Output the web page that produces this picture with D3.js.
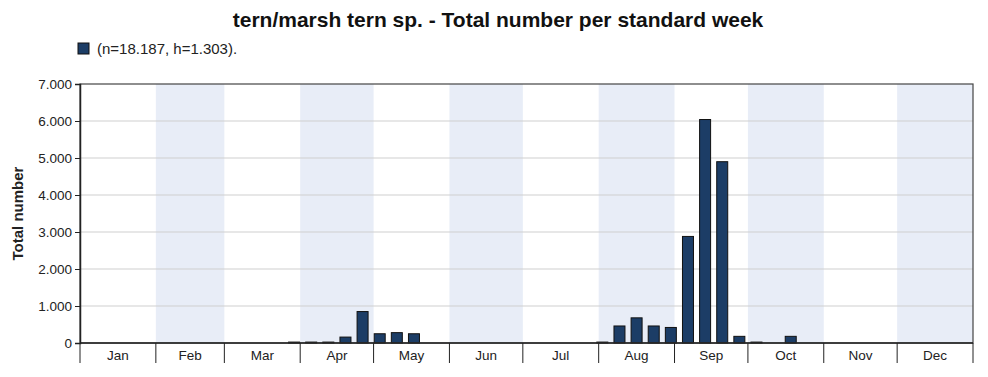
<!DOCTYPE html>
<html>
<head>
<meta charset="utf-8">
<script src="https://cdn.jsdelivr.net/npm/d3@7"></script>
<style>
  body { margin: 0; background: #fff; }
  text { font-family: "Liberation Sans", Arial, sans-serif; }
</style>
</head>
<body>
<script>
// Data: standard week number and total count
const weeks = [13, 14, 15, 16, 17, 18, 19, 20, 31, 32, 33, 34, 35, 36, 37, 38, 39, 40, 41, 42];
const counts = [25, 25, 25, 160, 850, 250, 280, 250, 25, 460, 680, 460, 420, 2880, 6040, 4900, 180, 25, 0, 180];
const months = ["Jan", "Feb", "Mar", "Apr", "May", "Jun", "Jul", "Aug", "Sep", "Oct", "Nov", "Dec"];
const yTicks = [0, 1000, 2000, 3000, 4000, 5000, 6000, 7000];
const title = "tern/marsh tern sp. - Total number per standard week";
const legendLabel = "(n=18.187, h=1.303).";

const width = 988;
const height = 377;
const margin = { top: 84, right: 15, bottom: 34, left: 80 };
const innerWidth = width - margin.left - margin.right;
const innerHeight = height - margin.top - margin.bottom;

const svg = d3.select("body")
  .append("svg")
  .attr("width", width)
  .attr("height", height);

const year = 2021;
const x = d3.scaleTime()
  .domain([new Date(year, 0, 1), new Date(year + 1, 0, 1)])
  .range([0, innerWidth]);

const y = d3.scaleLinear()
  .domain([0, 7000])
  .range([innerHeight, 0]);

const fmt = v => d3.format(",")(v).replace(/,/g, ".");

const g = svg.append("g")
  .attr("transform", `translate(${margin.left},${margin.top})`);

// alternating month bands
const monthStarts = d3.range(12).map(i => new Date(year, i, 1));
g.selectAll("rect.band")
  .data(monthStarts.filter((d, i) => i % 2 === 1))
  .enter()
  .append("rect")
  .attr("class", "band")
  .attr("x", d => x(d))
  .attr("width", d => x(new Date(year, d.getMonth() + 1, 1)) - x(d))
  .attr("y", 0)
  .attr("height", innerHeight)
  .attr("fill", "#e8edf7");

// gridlines
g.selectAll("line.grid")
  .data(yTicks.slice(1, -1))
  .enter()
  .append("line")
  .attr("x1", 0)
  .attr("x2", innerWidth)
  .attr("y1", d => y(d))
  .attr("y2", d => y(d))
  .attr("stroke", "#cfcfcf")
  .attr("stroke-width", 1);

// bars
const dayMs = 24 * 3600 * 1000;
const weekCenter = w => new Date(new Date(year, 0, 1).getTime() + ((w - 1) * 7 + 3.5) * dayMs);
const barWidth = 11;
g.selectAll("rect.bar")
  .data(weeks.map((w, i) => ({ week: w, value: counts[i] })).filter(d => d.value > 0))
  .enter()
  .append("rect")
  .attr("class", "bar")
  .attr("x", d => x(weekCenter(d.week)) - barWidth / 2)
  .attr("y", d => y(d.value))
  .attr("width", barWidth)
  .attr("height", d => innerHeight - y(d.value))
  .attr("fill", "#1c3d66")
  .attr("stroke", "#111")
  .attr("stroke-width", 1);

// frame
g.append("rect")
  .attr("x", 0)
  .attr("y", 0)
  .attr("width", innerWidth)
  .attr("height", innerHeight)
  .attr("fill", "none")
  .attr("stroke", "#444")
  .attr("stroke-width", 1.2);

// y axis
const yAxis = d3.axisLeft(y)
  .tickValues(yTicks)
  .tickSize(5)
  .tickFormat(fmt);
g.append("g")
  .call(yAxis)
  .call(s => s.select(".domain").attr("stroke", "#222").attr("stroke-width", 1.5))
  .call(s => s.selectAll(".tick line").attr("stroke", "#222"))
  .call(s => s.selectAll(".tick text")
    .attr("font-size", 13.5)
    .attr("fill", "#222")
    .attr("font-family", "Liberation Sans, Arial, sans-serif"));

// x axis: month boundaries as long ticks, labels centred in months
const xAxisG = g.append("g")
  .attr("transform", `translate(0,${innerHeight})`);
xAxisG.append("line")
  .attr("x1", 0)
  .attr("x2", innerWidth)
  .attr("stroke", "#222")
  .attr("stroke-width", 1.5);
xAxisG.selectAll("line.mtick")
  .data(monthStarts.concat([new Date(year + 1, 0, 1)]))
  .enter()
  .append("line")
  .attr("class", "mtick")
  .attr("x1", d => x(d))
  .attr("x2", d => x(d))
  .attr("y1", 0)
  .attr("y2", 20)
  .attr("stroke", "#222");
xAxisG.selectAll("text")
  .data(monthStarts)
  .enter()
  .append("text")
  .attr("x", d => (x(d) + x(new Date(year, d.getMonth() + 1, 1))) / 2)
  .attr("y", 17)
  .attr("text-anchor", "middle")
  .attr("font-size", 13.5)
  .attr("fill", "#222")
  .text((d, i) => months[i]);

// y axis title
svg.append("text")
  .attr("transform", `translate(23,${margin.top + innerHeight / 2}) rotate(-90)`)
  .attr("text-anchor", "middle")
  .attr("font-size", 15)
  .attr("font-weight", "bold")
  .attr("fill", "#222")
  .text("Total number");

// title
svg.append("text")
  .attr("x", 498)
  .attr("y", 27)
  .attr("text-anchor", "middle")
  .attr("font-size", 21)
  .attr("font-weight", "bold")
  .attr("fill", "#111")
  .text(title);

// legend
svg.append("rect")
  .attr("x", 78)
  .attr("y", 43)
  .attr("width", 11)
  .attr("height", 11)
  .attr("fill", "#1c3d66")
  .attr("stroke", "#111");
svg.append("text")
  .attr("x", 97)
  .attr("y", 54)
  .attr("font-size", 15)
  .attr("fill", "#222")
  .text(legendLabel);
</script>
</body>
</html>
